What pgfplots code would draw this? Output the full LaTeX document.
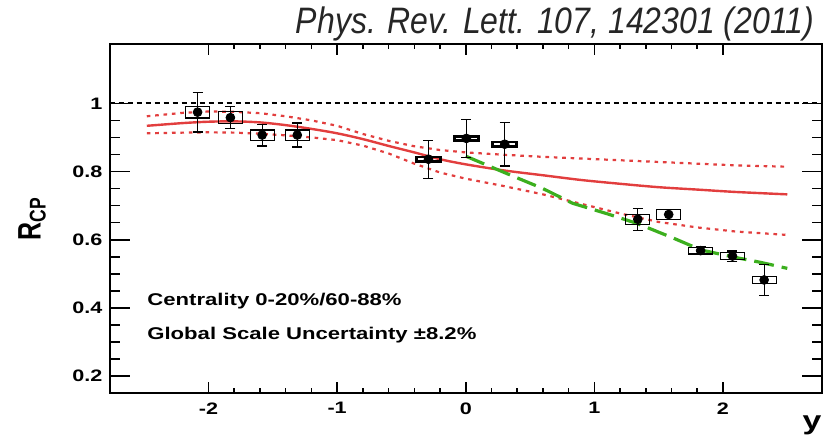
\documentclass[border=0pt]{standalone}
\usepackage{pgfplots}
\pgfplotsset{compat=1.18}
\usepackage{pgfplotstable}
\usepackage{graphicx}
\usepackage{fontspec}
\setmainfont{Liberation Sans}[FakeStretch=1.3]
\newfontfamily\plainsans{Liberation Sans}

\definecolor{modelred}{RGB}{226,62,62}
\definecolor{modelgreen}{RGB}{60,175,30}

% J/psi R_CP versus rapidity: value, statistical and systematic uncertainty
\pgfplotstableread{
y       rcp     stat    sys
-2.085  0.974   0.058   0.017
-1.830  0.958   0.033   0.017
-1.583  0.907   0.032   0.015
-1.310  0.907   0.035   0.015
-0.290  0.836   0.056   0.006
 0.005  0.897   0.055   0.006
 0.303  0.880   0.064   0.006
 1.338  0.660   0.032   0.015
 1.578  0.674   0.015   0.015
 1.826  0.568   0.012   0.010
 2.074  0.552   0.015   0.010
 2.320  0.482   0.046   0.010
}\rcpdata

% model curves
\pgfplotstableread{
y      mid    hi     lo
-2.48  0.934  0.962  0.912
-2.20  0.942  0.972  0.914
-2.00  0.946  0.976  0.915
-1.80  0.947  0.975  0.914
-1.60  0.944  0.971  0.911
-1.40  0.936  0.962  0.906
-1.20  0.925  0.950  0.900
-1.00  0.912  0.934  0.892
-0.80  0.895  0.910  0.876
-0.60  0.875  0.890  0.853
-0.40  0.856  0.874  0.823
-0.20  0.836  0.863  0.797
 0.00  0.821  0.856  0.779
 0.30  0.803  0.849  0.757
 0.60  0.789  0.843  0.733
 0.90  0.775  0.838  0.705
 1.20  0.764  0.833  0.677
 1.50  0.754  0.828  0.652
 1.80  0.747  0.823  0.636
 2.10  0.740  0.818  0.624
 2.50  0.733  0.814  0.614
}\modeldata

\pgfplotstableread{
y     r
0.00  0.845
0.30  0.797
0.60  0.750
0.83  0.707
1.10  0.676
1.33  0.648
1.60  0.607
1.83  0.570
2.07  0.550
2.30  0.533
2.50  0.516
}\fwddata

% open box for the systematic uncertainty; half height in pt is \sysh
\pgfdeclareplotmark{sysbox}{%
  \pgfpathrectangle{\pgfpoint{-6pt}{-\sysh pt}}{\pgfpoint{12pt}{2*\sysh pt}}%
  \pgfusepath{stroke}}

\begin{document}
\begin{tikzpicture}
\useasboundingbox (0,0) rectangle (412pt,220pt);
\begin{axis}[
  at={(54.75pt,23.75pt)}, anchor=south west,
  width=356.25pt, height=174.1pt, scale only axis,
  xmin=-2.77, xmax=2.77, ymin=0.152, ymax=1.173,
  xtick={-2,-1,0,1,2}, xticklabels={-2,-1,0,1,2},
  ytick={0.2,0.4,0.6,0.8,1}, yticklabels={0.2,0.4,0.6,0.8,1},
  minor x tick num=4, minor y tick num=3,
  tick align=inside,
  axis line style={line width=1pt},
  xtick style={line width=0.8pt, black, /pgfplots/major tick length=5.5pt, /pgfplots/minor tick length=2.5pt},
  ytick style={line width=0.8pt, black, /pgfplots/major tick length=10pt, /pgfplots/minor tick length=5pt},
  ticklabel style={font=\fontsize{8.3}{9}\selectfont\bfseries},
  xticklabel style={yshift=-1.5pt},
  clip=false,
]
\addplot [black, line width=1.1pt, dash pattern=on 2.5pt off 2pt] coordinates {(-2.77,1) (2.77,1)};
\addplot [modelred, line width=1.1pt, dash pattern=on 1.8pt off 2.4pt] table [x=y, y=hi] {\modeldata};
\addplot [modelred, line width=1.1pt, dash pattern=on 1.8pt off 2.4pt] table [x=y, y=lo] {\modeldata};
\addplot [modelred, line width=1.2pt, smooth] table [x=y, y=mid] {\modeldata};
\addplot [modelgreen, line width=1.6pt, dash pattern=on 10pt off 4pt] table [x=y, y=r] {\fwddata};
% forward and backward rapidity: open boxes
\addplot [only marks, mark=sysbox, black, mark options={line width=0.6pt},
  restrict x to domain=-3:3, x filter/.expression={abs(x)<0.5 ? nan : x},
  visualization depends on={170.5*\thisrow{sys} \as \sysh}]
  table [x=y, y=rcp] {\rcpdata};
% mid rapidity: narrow boxes
\addplot [only marks, mark=sysbox, black, mark options={line width=1.3pt},
  restrict x to domain=-0.5:0.5,
  visualization depends on={170.5*\thisrow{sys} \as \sysh}]
  table [x=y, y=rcp] {\rcpdata};
\addplot [only marks, mark=*, mark size=2.2pt, black,
  error bars/.cd, y dir=both, y explicit,
  error bar style={line width=0.6pt, black},
  error mark options={rotate=90, mark size=2.5pt, line width=0.6pt, black}]
  table [x=y, y=rcp, y error=stat] {\rcpdata};
\end{axis}

\node[anchor=base, inner sep=0, text=black!85]
  at (277.5pt,203pt) {\scalebox{1}[1.15]{\plainsans\itshape\fontsize{16}{18}\selectfont Phys. Rev. Lett. 107, 142301 (2011)}};
\node[anchor=west, inner sep=0, font=\fontsize{8.5}{10}\selectfont\bfseries]
  at (73.5pt,69.2pt) {Centrality 0-20\%/60-88\%};
\node[anchor=west, inner sep=0, font=\fontsize{8.5}{10}\selectfont\bfseries]
  at (73.5pt,52.5pt) {Global Scale Uncertainty ±8.2\%};
\node[rotate=90, inner sep=0] at (16pt,110.5pt)
  {\scalebox{1}[1.3]{\plainsans\bfseries\fontsize{12.5}{14}\selectfont R\textsubscript{CP}}};
\node[inner sep=0, font=\fontsize{13}{14}\selectfont\bfseries] at (406pt,7.5pt) {y};
\end{tikzpicture}
\end{document}
